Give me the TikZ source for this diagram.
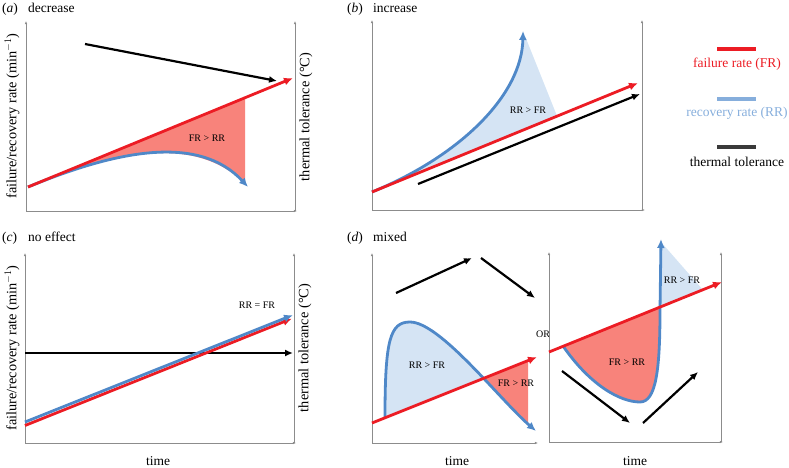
\documentclass[tikz,border=0pt]{standalone}
\usepackage{fontspec}
\setmainfont{Liberation Serif}
\usepackage{tikz}
\usetikzlibrary{arrows.meta}
\definecolor{frred}{HTML}{EC1C24}
\definecolor{rrblue}{HTML}{4F88C8}
\definecolor{rrlight}{HTML}{86AEDC}
\definecolor{frfill}{HTML}{F8837B}
\definecolor{rrfill}{HTML}{D5E4F4}
\definecolor{axgray}{HTML}{8C8C8C}
\definecolor{ttgray}{HTML}{3A3A3A}

\begin{document}
\begin{tikzpicture}[x=1pt,y=-1pt,
    ax/.style={axgray,line width=0.6pt,-{Latex[length=3.2pt,width=2.6pt]}},
    fr/.style={frred,line width=2.8pt,-{Latex[length=9pt,width=8pt]}},
    rr/.style={rrblue,line width=2.8pt,-{Latex[length=9pt,width=8pt]}},
    tt/.style={black,line width=2.2pt,-{Latex[length=8pt,width=7pt]}},
    ttl/.style={inner sep=0pt,font=\fontsize{13.5}{15}\selectfont},
    yttl/.style={ttl,rotate=90,font=\fontsize{14.3}{16}\selectfont},
    cmp/.style={inner sep=0pt,font=\fontsize{10}{11}\selectfont}]
    \useasboundingbox (0,0) rectangle (789,468);
    \node[ttl,anchor=base west] (pa) at (2,12.5) {(\textit{a})};
    \node[ttl,anchor=base west] (na) at (28,12.5) {decrease};
    \draw[ax] (26,211) -- (26,21);
    \draw[ax] (26,211) -- (297,211);
    \draw[ax] (295,211) -- (295,21);
    \node[yttl] (ya) at (12,116) {failure/recovery rate (min$^{-1}$)};
    \node[yttl] (za) at (306,117) {thermal tolerance (°C)};
    \begin{scope}
      \clip (0,0) rectangle (245,230);
      \fill[frfill] (28,187) -- (293,78) -- (293,200) -- (248,200) -- (248,187)
        .. controls (200,135) and (120,149) .. (28,187) -- cycle;
    \end{scope}
    \draw[rr] (28,187) .. controls (120,149) and (200,135) .. (248,187);
    \draw[fr] (28,187) -- (293,78);
    \draw[tt] (85,44) -- (277,81);
    \node[cmp] (ca) at (207,138) {FR > RR};

    \node[ttl,anchor=base west] (pb) at (347,12.5) {(\textit{b})};
    \node[ttl,anchor=base west] (nb) at (373,12.5) {increase};
    \draw[ax] (372,210) -- (372,20);
    \draw[ax] (372,210) -- (645,210);
    \draw[ax] (642,210) -- (642,20);
    \fill[rrfill] (372,192) .. controls (460,156) and (522,95) .. (523,31) -- (557,116) -- cycle;
    \draw[rr] (372,192) .. controls (460,156) and (522,95) .. (523,31);
    \draw[fr] (372,192) -- (638,83);
    \draw[tt] (418,184) -- (640,94);
    \node[cmp] (cb) at (528,110) {RR > FR};

    \draw[frred,line width=3.2pt] (717,49) -- (756,49);
    \node[ttl,frred] (lfr) at (737,64) {failure rate (FR)};
    \draw[rrlight,line width=3.2pt] (717,99) -- (756,99);
    \node[ttl,rrlight] (lrr) at (737,113) {recovery rate (RR)};
    \draw[ttgray,line width=3.2pt] (717,147) -- (756,147);
    \node[ttl] (ltt) at (737,162) {thermal tolerance};

    \node[ttl,anchor=base west] (pc) at (2,241.7) {(\textit{c})};
    \node[ttl,anchor=base west] (nc) at (28,241.7) {no effect};
    \draw[ax] (25,443) -- (25,253);
    \draw[ax] (25,443) -- (296,443);
    \draw[ax] (294,443) -- (294,253);
    \node[yttl] (yc) at (12,348) {failure/recovery rate (min$^{-1}$)};
    \node[yttl] (zc) at (305,348) {thermal tolerance (°C)};
    \node[ttl] (xc) at (158,461) {time};
    \draw[tt] (25,353) -- (293,353);
    \draw[fr] (25,425.5) -- (292,318.5);
    \draw[rr] (25,422) -- (293,315);
    \node[cmp] (cc) at (257,305) {RR = FR};

    \node[ttl,anchor=base west] (pd) at (347,241.7) {(\textit{d})};
    \node[ttl,anchor=base west] (nd) at (373,241.7) {mixed};
    \draw[ax] (372,443) -- (372,253);
    \draw[ax] (372,443) -- (538,443);
    \node[ttl] (xd) at (457,461) {time};
    \begin{scope}
      \clip (372,423) -- (537,357) -- (537,240) -- (372,240) -- cycle;
      \fill[rrfill] (385,417) .. controls (385,340) and (390,322) .. (410,322)
        .. controls (440,322) and (500,400) .. (536,431) -- (536,460) -- (385,460) -- cycle;
    \end{scope}
    \begin{scope}
      \clip (372,423) -- (528,360.6) -- (528,470) -- (372,470) -- cycle;
      \fill[frfill] (385,417) .. controls (385,340) and (390,322) .. (410,322)
        .. controls (440,322) and (500,400) .. (536,431) -- (536,300) -- (385,300) -- cycle;
    \end{scope}
    \draw[rr] (385,417) .. controls (385,340) and (390,322) .. (410,322)
      .. controls (440,322) and (500,400) .. (536,431);
    \draw[fr] (372,423) -- (537,357);
    \draw[tt] (396,293) -- (472,258);
    \draw[tt] (481,258) -- (535,298);
    \node[cmp] (cd1) at (427,365) {RR > FR};
    \node[cmp] (cd2) at (516,383) {FR > RR};
    \node[cmp] (ord) at (543,334) {OR};

    \draw[ax] (549,442) -- (549,252);
    \draw[ax] (549,442) -- (723,442);
    \draw[ax] (721,442) -- (721,252);
    \node[ttl] (xe) at (635,461) {time};
    \fill[frfill] (563,346) .. controls (590,385) and (620,402) .. (640,402)
      .. controls (656,402) and (660,370) .. (660,310) -- (660,307) -- cycle;
    \fill[rrfill] (660,307) -- (661,242) -- (703,290) -- cycle;
    \draw[rr] (563,346) .. controls (590,385) and (620,402) .. (640,402)
      .. controls (656,402) and (660,370) .. (660,310) -- (661,239);
    \draw[fr] (549,352) -- (722,282);
    \draw[tt] (562,371) -- (630,423);
    \draw[tt] (643,423) -- (698,372);
    \node[cmp] (ce1) at (682,280) {RR > FR};
    \node[cmp] (ce2) at (627,362) {FR > RR};
  \end{tikzpicture}
\end{document}
